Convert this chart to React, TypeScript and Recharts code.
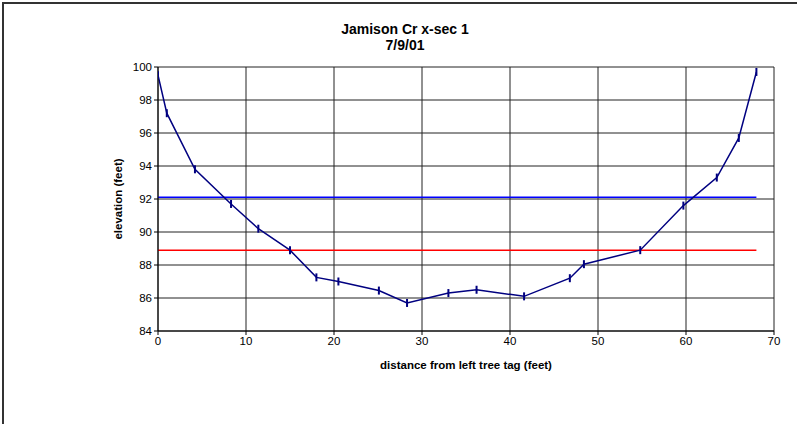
import { LineChart, Line, XAxis, YAxis, CartesianGrid } from 'recharts';

// survey points across the creek, left tree tag = 0
const distance = [0, 1, 4.2, 8.3, 11.4, 15, 18, 20.5, 25.1, 28.3, 33, 36.2, 41.6, 46.8, 48.4, 54.8, 59.7, 63.5, 66, 68];
const elevation = [99.5, 97.2, 93.8, 91.7, 90.2, 88.9, 87.25, 87, 86.45, 85.7, 86.3, 86.5, 86.1, 87.2, 88.05, 88.9, 91.6, 93.3, 95.7, 99.7];

// level lines
const levelSpan = [0, 68];
const blueLevel = 92.1;
const redLevel = 88.9;

const xTicks = [0, 10, 20, 30, 40, 50, 60, 70];
const yTicks = [84, 86, 88, 90, 92, 94, 96, 98, 100];

const profile = distance.map((d, i) => ({ x: d, y: elevation[i] }));
const blueLine = levelSpan.map((d) => ({ x: d, y: blueLevel }));
const redLine = levelSpan.map((d) => ({ x: d, y: redLevel }));

const font = 'Arial, "Liberation Sans", sans-serif';

const DashMark = (props: any) => {
  const { cx, cy } = props;
  if (cx == null || cy == null) return null;
  return <line x1={cx} y1={cy - 4} x2={cx} y2={cy + 4} stroke="#000080" strokeWidth={2} />;
};

const App = () => {
  return (
    <div style={{ position: 'absolute', left: 0, top: 0, width: 797, height: 424, background: '#fff', fontFamily: font }}>
      <div style={{ position: 'absolute', left: 2, top: 2, width: 795, height: 422, borderLeft: '2px solid #333', borderTop: '2px solid #333', boxSizing: 'border-box' }} />
      <div style={{ position: 'absolute', left: 305, width: 200, top: 21, textAlign: 'center', fontWeight: 'bold', fontSize: 14, lineHeight: '16px', color: '#000' }}>
        <div>Jamison Cr x-sec 1</div>
        <div>7/9/01</div>
      </div>
      <LineChart
        width={797}
        height={424}
        margin={{ top: 67, right: 23, left: 0, bottom: 0 }}
        style={{ position: 'absolute', left: 0, top: 0, fontFamily: font }}
      >
        <CartesianGrid stroke="#222" strokeWidth={1} />
        <XAxis
          type="number"
          dataKey="x"
          domain={[0, 70]}
          ticks={xTicks}
          interval={0}
          height={93}
          stroke="#000"
          tickSize={4}
          tick={{ fill: '#000', fontSize: 11.5 }}
          allowDataOverflow
          label={{ value: 'distance from left tree tag (feet)', position: 'insideTop', offset: 30, fill: '#000', fontSize: 11.5, fontWeight: 'bold' }}
        />
        <YAxis
          type="number"
          dataKey="y"
          domain={[84, 100]}
          ticks={yTicks}
          interval={0}
          width={158}
          stroke="#000"
          tickSize={4}
          tick={{ fill: '#000', fontSize: 11.5 }}
          allowDataOverflow
          label={{ value: 'elevation (feet)', angle: -90, position: 'center', dx: 39, fill: '#000', fontSize: 11.5, fontWeight: 'bold' }}
        />
        <Line data={blueLine} dataKey="y" stroke="#0000ff" strokeWidth={1.5} dot={false} isAnimationActive={false} />
        <Line data={redLine} dataKey="y" stroke="#ff0000" strokeWidth={1.5} dot={false} isAnimationActive={false} />
        <Line data={profile} dataKey="y" stroke="#000080" strokeWidth={1.5} dot={<DashMark />} activeDot={false} isAnimationActive={false} />
      </LineChart>
    </div>
  );
};

export default App;
